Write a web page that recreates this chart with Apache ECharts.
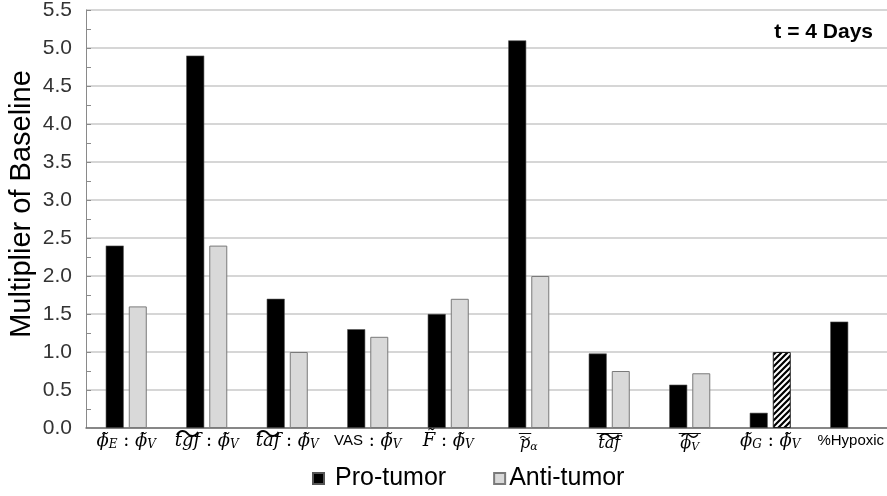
<!DOCTYPE html>
<html>
<head>
<meta charset="utf-8">
<script src="https://cdn.jsdelivr.net/npm/echarts@6/dist/echarts.min.js"></script>
<style>
  html, body { margin: 0; padding: 0; background: #ffffff; }
  #chart { width: 887px; height: 496px; }
</style>
</head>
<body>
<div id="chart"></div>
<script>
// Categories (keys used to build the math-style axis labels)
const categories = ['phiE:phiV', 'tgf:phiV', 'taf:phiV', 'VAS:phiV', 'F:phiV',
                    'pAlpha', 'tafMean', 'phiVMean', 'phiG:phiV', '%Hypoxic'];

// Multiplier of baseline at t = 4 days
const proTumor  = [2.4, 4.9, 1.7, 1.3, 1.5, 5.1, 0.98, 0.57, 0.2, 1.4];
const antiTumor = [1.6, 2.4, 1.0, 1.2, 1.7, 2.0, 0.75, 0.72, 1.0, null];

// The anti-tumor bar at this category is drawn hatched
const hatchedIndex = 8;

// Value axis
const yMin = 0, yMax = 5.5, yStep = 0.5;

const seriesNames = ['Pro-tumor', 'Anti-tumor'];
const panelNote = 't = 4 Days';
const yTitle = 'Multiplier of Baseline';

// ---- text measuring for the decorated math labels ----
const mctx = document.createElement('canvas').getContext('2d');
function textW(str, font) { mctx.font = font; return mctx.measureText(str).width; }
const MATH_FAM = '"DejaVu Serif"';
const F_M = 'italic 18px ' + MATH_FAM;
const F_S = 'italic 12px ' + MATH_FAM;
const F_M3 = 'italic 16px ' + MATH_FAM;
const F_S3 = 'italic 11px ' + MATH_FAM;
const F_C = '18px ' + MATH_FAM;
const PHI = '\u03D5';
const PHI_T = PHI + '\u0303';   // phi with tilde
const WAVE = '\u301C';

function mathStyle(size, pad) {
  return { fontFamily: MATH_FAM, fontStyle: 'italic', fontSize: size, lineHeight: 18, color: '#000', padding: [pad, 0, 0, 0] };
}

// main label row (m3/s3: smaller glyphs sitting lower, under stacked accents)
const richMain = {
  m:  mathStyle(18, 0),
  s:  mathStyle(12, 8),
  m3: mathStyle(16, 6),
  s3: mathStyle(11, 13),
  c:  { fontFamily: MATH_FAM, fontSize: 18, lineHeight: 18, color: '#000' },
  r:  { fontFamily: 'Liberation Sans', fontSize: 15, lineHeight: 18, color: '#000' }
};

const tailW = textW(' : ', F_C) + textW(PHI_T, F_M) + textW('V', F_S);
const wTgf = textW('tgf', F_M);
const wTaf = textW('taf', F_M);
const wTaf3 = textW('taf', F_M3);
const wP3 = textW('p', F_M3);
const wAlpha3 = textW('\u03B1', F_S3);
const wPhiV3 = textW(PHI, F_M3) + textW('V', F_S3);

// wide-tilde row
const richTilde = {};
function wave(name, w, shift) {
  richTilde[name] = { width: w, align: 'center', fontFamily: '"Noto Sans CJK JP"', fontSize: Math.round(w),
                      lineHeight: 8, color: '#000', padding: [shift * 2, 0, 0, 0] };
}
function gapT(name, w) { richTilde[name] = { width: w, lineHeight: 8 }; }
wave('t2', wTgf, 0); gapT('g2', tailW);
wave('t3', wTaf, 0); gapT('g3', tailW);
wave('t6', wP3 + 1, 4.5); gapT('g6', wAlpha3);
wave('t7', wTaf3, 2.5);
wave('t8', wPhiV3, 2.5);

// overline row
const richBar = {};
function bar(name, w) { richBar[name] = { width: w, height: 0, lineHeight: 2, borderColor: '#000', borderWidth: 0.8 }; }
function gapB(name, w) { richBar[name] = { width: w, lineHeight: 2 }; }
bar('o6', wP3 + 2); gapB('g6', wAlpha3);
bar('o7', wTaf3 + 3);
bar('o8', wPhiV3 + 3);

const tail = '{c| : }{m|' + PHI_T + '}{s|V}';
const labelText = {
  'phiE:phiV': '{m|' + PHI_T + '}{s|E}' + tail,
  'tgf:phiV':  '{m|tgf}' + tail,
  'taf:phiV':  '{m|taf}' + tail,
  'VAS:phiV':  '{r|VAS}' + tail,
  'F:phiV':    '{m|F\u0303}' + tail,
  'pAlpha':    '{m3|p}{s3|\u03B1}',
  'tafMean':   '{m3|taf}',
  'phiVMean':  '{m3|' + PHI + '}{s3|V}',
  'phiG:phiV': '{m|' + PHI_T + '}{s|G}' + tail,
  '%Hypoxic':  '{r|%Hypoxic}'
};
const tildeText = {
  'tgf:phiV': '{t2|' + WAVE + '}{g2|}',
  'taf:phiV': '{t3|' + WAVE + '}{g3|}',
  'pAlpha':   '{t6|' + WAVE + '}{g6|}',
  'tafMean':  '{t7|' + WAVE + '}',
  'phiVMean': '{t8|' + WAVE + '}'
};
const barText = {
  'pAlpha':   '{o6|}{g6|}',
  'tafMean':  '{o7|}',
  'phiVMean': '{o8|}'
};

// ---- diagonal hatch pattern ----
function hatchPattern() {
  const c = document.createElement('canvas');
  const n = 6;
  c.width = n; c.height = n;
  const g = c.getContext('2d');
  g.fillStyle = '#ffffff';
  g.fillRect(0, 0, n, n);
  g.strokeStyle = '#000000';
  g.lineWidth = 2.2;
  g.beginPath();
  g.moveTo(-1, n + 1); g.lineTo(n + 1, -1);
  g.moveTo(-1, 1); g.lineTo(1, -1);
  g.moveTo(n - 1, n + 1); g.lineTo(n + 1, n - 1);
  g.stroke();
  return c;
}

const antiData = antiTumor.map((v, i) => {
  if (v === null) return '-';
  if (i === hatchedIndex) {
    return { value: v, itemStyle: { color: { image: hatchPattern(), repeat: 'repeat' }, borderColor: '#222', borderWidth: 1 } };
  }
  return v;
});

function decoAxis(margin, texts, rich) {
  return {
    type: 'category', data: categories, gridIndex: 0, position: 'bottom', silent: true,
    axisLine: { show: false }, axisTick: { show: false }, splitLine: { show: false },
    axisLabel: { interval: 0, margin: margin, hideOverlap: false, formatter: (v) => texts[v] || '', rich: rich }
  };
}

const chart = echarts.init(document.getElementById('chart'), null, { renderer: 'canvas' });
chart.setOption({
  animation: false,
  backgroundColor: '#ffffff',
  grid: { left: 86, top: 10, width: 805, height: 418, containLabel: false, outerBoundsMode: 'none' },
  legend: {
    data: [
      { name: seriesNames[0], textStyle: { padding: [0, 0, 0, 6] } },
      { name: seriesNames[1], textStyle: { padding: [0, 0, 0, -1] } }
    ],
    left: 307, top: 461,
    icon: 'rect',
    itemWidth: 11, itemHeight: 11,
    itemGap: 47,
    textStyle: { fontFamily: 'Liberation Sans', fontSize: 25, color: '#000' }
  },
  graphic: [
    {
      type: 'text', right: 14, top: 22,
      style: { text: panelNote, font: 'bold 21px "Liberation Sans"', fill: '#000' }
    },
    {
      type: 'text', x: 22, y: 204, rotation: Math.PI / 2,
      style: { text: yTitle, font: '29px "Liberation Sans"', fill: '#000', align: 'center', verticalAlign: 'middle' }
    }
  ],
  xAxis: [
    {
      type: 'category',
      data: categories,
      axisLine: { lineStyle: { color: '#6e6e6e', width: 1.5 } },
      axisTick: { show: false },
      axisLabel: {
        interval: 0, margin: 4, hideOverlap: false,
        formatter: (v) => labelText[v],
        rich: richMain
      }
    },
    decoAxis(1.5, tildeText, richTilde),
    decoAxis(4.5, barText, richBar)
  ],
  yAxis: {
    type: 'value',
    min: yMin, max: yMax, interval: yStep,
    axisLine: { show: true, lineStyle: { color: '#8a8a8a', width: 1 } },
    axisTick: { show: true, inside: true, length: 5, lineStyle: { color: '#8a8a8a' } },
    minorTick: { show: true, splitNumber: 2, length: 5, lineStyle: { color: '#8a8a8a' } },
    splitLine: { show: true, lineStyle: { color: '#c8c8c8', width: 1.5 } },
    axisLabel: {
      margin: 14, fontFamily: 'Liberation Sans', fontSize: 21, color: '#333',
      formatter: (v) => v.toFixed(1)
    }
  },
  series: [
    {
      name: seriesNames[0], type: 'bar', data: proTumor,
      barWidth: 18, barGap: '28%',
      itemStyle: { color: '#000000', borderColor: '#555', borderWidth: 0.6 }
    },
    {
      name: seriesNames[1], type: 'bar', data: antiData,
      barWidth: 18, barGap: '28%',
      itemStyle: { color: '#d9d9d9', borderColor: '#7a7a7a', borderWidth: 1 }
    }
  ]
});
</script>
</body>
</html>
